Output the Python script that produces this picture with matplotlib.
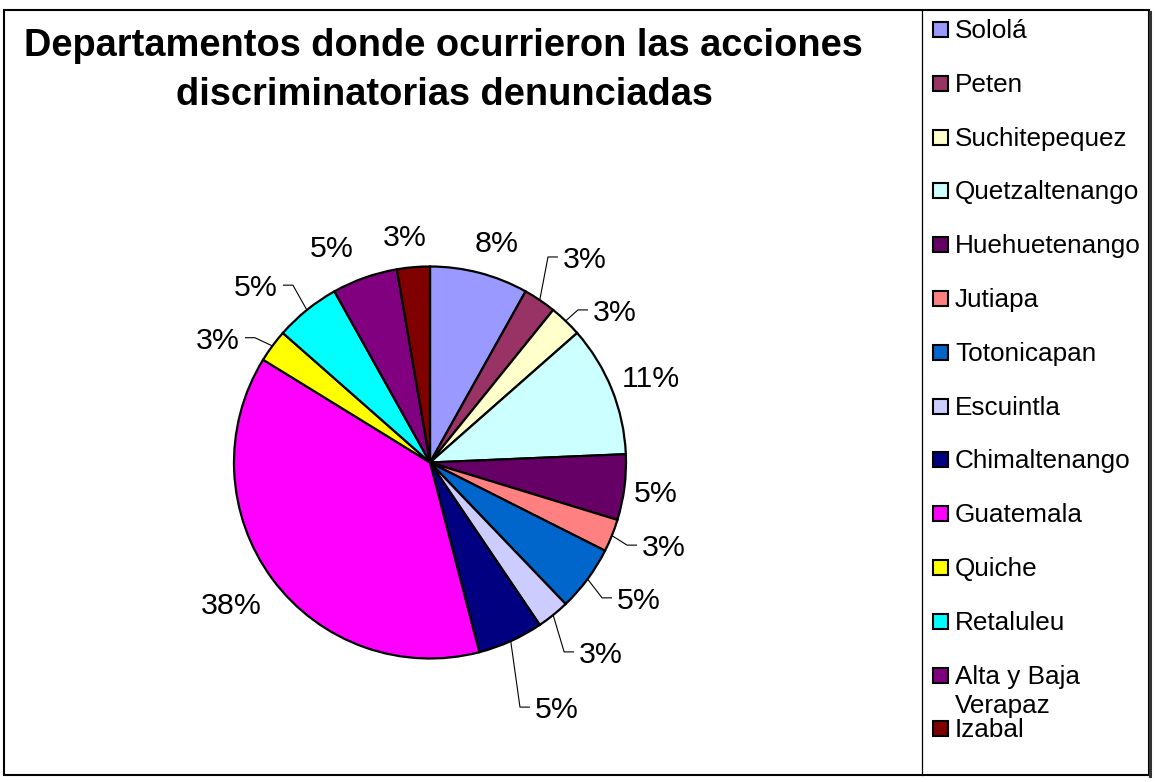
import numpy as np
import matplotlib
matplotlib.use("Agg")
import matplotlib.pyplot as plt
from matplotlib.patches import Rectangle

# ---------------- data ----------------
categories = ["Sololá", "Peten", "Suchitepequez", "Quetzaltenango", "Huehuetenango",
              "Jutiapa", "Totonicapan", "Escuintla", "Chimaltenango", "Guatemala",
              "Quiche", "Retaluleu", "Alta y Baja\nVerapaz", "Izabal"]
counts = [3, 1, 1, 4, 2, 1, 2, 1, 2, 14, 1, 2, 2, 1]
pct_labels = ["8%", "3%", "3%", "11%", "5%", "3%", "5%", "3%", "5%", "38%",
              "3%", "5%", "5%", "3%"]
colors = ["#9999FF", "#993366", "#FFFFCC", "#CCFFFF", "#660066", "#FF8080",
          "#0066CC", "#CCCCFF", "#000080", "#FF00FF", "#FFFF00", "#00FFFF",
          "#800080", "#800000"]
title = "Departamentos donde ocurrieron las acciones\ndiscriminatorias denunciadas"

# ---------------- styling / layout ----------------
# label placement: (radius factor, angle nudge deg, leader?)
lab_r = [1.181, 1.249, 1.139, 1.211, 1.162, 1.161, 1.178, 1.230, 1.358, 1.243, 1.160, 1.192, 1.214, 1.166]
lab_da = [-2.2, 1.15, -3.1, -0.5, 0.1, 0.6, 0.6, -0.7, -1.1, -1.3, 3.2, 1.7, 5.0, 1.6]
leader = [False, True, True, False, False, True, True, True, True, False, True, True, False, False]

W, H = 1155, 782
FONT = "Liberation Sans"
fig = plt.figure(figsize=(W / 100, H / 100), dpi=100)
ax = fig.add_axes([0, 0, 1, 1])

def py(y):
    return H - y

cx, cy, R = 430, py(462.5), 196

wedges, _ = ax.pie(counts, colors=colors, startangle=90, counterclock=False,
                   center=(cx, cy), radius=R,
                   wedgeprops=dict(edgecolor="black", linewidth=1.6))
ax.set_xlim(0, W)
ax.set_ylim(0, H)
ax.set_aspect("auto")
ax.axis("off")

lab_fs = 21.8
em = lab_fs * 100 / 72
for w, lab, r, da, ld in zip(wedges, pct_labels, lab_r, lab_da, leader):
    mid = np.deg2rad((w.theta1 + w.theta2) / 2)
    ang = mid + np.deg2rad(da)
    tx = cx + r * R * np.cos(ang)
    ty = cy + r * R * np.sin(ang)
    base = ty - 0.358 * em
    if ld:
        side = 1 if np.cos(ang) > 0 else -1
        ex, ey = cx + R * np.cos(mid), cy + R * np.sin(mid)
        hx = tx - side * 5
        bx = tx - side * 15
        ax.plot([ex, bx, hx], [ey, ty, ty], color="black", lw=0.8, solid_capstyle="butt")
        ax.text(tx, base, lab, ha="left" if side > 0 else "right", va="baseline",
                fontsize=lab_fs, family=FONT, color="black")
    else:
        ax.text(tx, base, lab, ha="center", va="baseline",
                fontsize=lab_fs, family=FONT, color="black")

# title
tl = title.split("\n")
ax.text(443, py(56), tl[0], ha="center", va="baseline", fontsize=27.4, weight="bold", family=FONT)
ax.text(444, py(105), tl[1], ha="center", va="baseline", fontsize=27.4, weight="bold", family=FONT)

# borders
ax.add_patch(Rectangle((4, py(775)), 1149 - 4, 775 - 10, fill=False, edgecolor="black", lw=1.5))
ax.plot([922, 922], [py(10), py(775)], color="black", lw=0.9)
ax.plot([1150, 1150], [py(12), py(776)], color="#333333", lw=2.2)

# legend
leg_fs = 18.8
leg_step = 53.8
for i, (cat, col) in enumerate(zip(categories, colors)):
    base = 38 + i * leg_step
    ax.add_patch(Rectangle((933, py(base - 1)), 15, 15, facecolor=col,
                           edgecolor="black", lw=1.5))
    for j, line in enumerate(cat.split("\n")):
        ax.text(955, py(base + j * 29), line, ha="left", va="baseline",
                fontsize=leg_fs, family=FONT, color="black")

fig.savefig("out.png", dpi=100)
